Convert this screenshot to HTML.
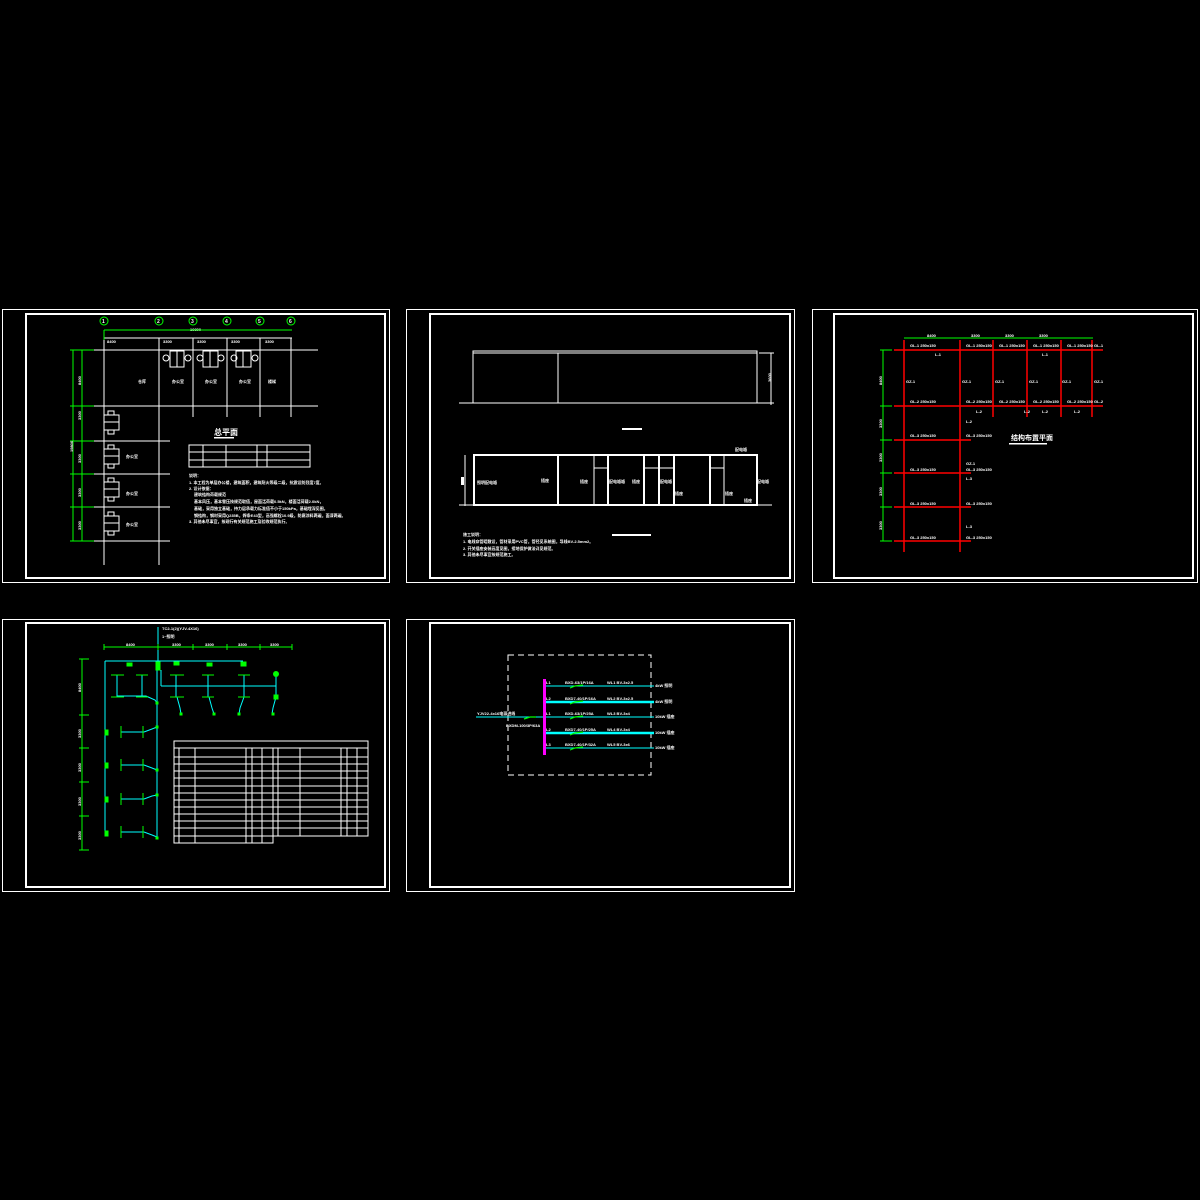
<!DOCTYPE html>
<html><head><meta charset="utf-8"><style>
html,body{margin:0;padding:0;background:#000;}
svg{display:block;}
text{font-family:"Liberation Sans","Noto Sans CJK SC",sans-serif;fill:#fff;font-weight:bold;}
</style></head><body>
<svg width="1200" height="1200" viewBox="0 0 1200 1200" xmlns="http://www.w3.org/2000/svg">
<rect width="1200" height="1200" fill="#000"/>
<g fill="none" stroke="#fff">
<!-- frames -->
<rect x="2.5" y="309.5" width="387" height="273" stroke-width="1"/>
<rect x="26" y="314" width="359" height="264" stroke-width="2"/>
<rect x="406.5" y="309.5" width="388" height="273"/>
<rect x="430" y="314" width="360" height="264" stroke-width="2"/>
<rect x="812.5" y="309.5" width="385" height="273"/>
<rect x="834" y="314" width="359" height="264" stroke-width="2"/>
<rect x="2.5" y="619.5" width="387" height="272"/>
<rect x="26" y="623" width="359" height="264" stroke-width="2"/>
<rect x="406.5" y="619.5" width="388" height="272"/>
<rect x="430" y="623" width="360" height="264" stroke-width="2"/>
</g>

<!-- SHEET 1 -->
<g stroke="#fff" stroke-width="1" fill="none">
<line x1="94" y1="350" x2="318" y2="350"/>
<line x1="94" y1="406" x2="318" y2="406"/>
<line x1="94" y1="441" x2="170" y2="441"/>
<line x1="94" y1="474" x2="170" y2="474"/>
<line x1="94" y1="507" x2="170" y2="507"/>
<line x1="94" y1="541" x2="170" y2="541"/>
<line x1="104" y1="338" x2="104" y2="565"/>
<line x1="159" y1="338" x2="159" y2="565"/>
<line x1="193" y1="338" x2="193" y2="417"/>
<line x1="227" y1="338" x2="227" y2="417"/>
<line x1="260" y1="338" x2="260" y2="417"/>
<line x1="291" y1="338" x2="291" y2="417"/>
<line x1="104" y1="338" x2="292" y2="338"/>
<rect x="189" y="445" width="121" height="22"/>
<line x1="189" y1="452" x2="310" y2="452"/><line x1="189" y1="460" x2="310" y2="460"/>
<line x1="203" y1="445" x2="203" y2="467"/><line x1="226" y1="445" x2="226" y2="467"/>
<line x1="257" y1="445" x2="257" y2="467"/><line x1="267" y1="445" x2="267" y2="467"/>
<!-- equipment top -->
<rect x="170" y="351" width="14" height="16"/><line x1="177" y1="351" x2="177" y2="367"/>
<circle cx="166" cy="358" r="3"/><circle cx="188" cy="358" r="3"/>
<rect x="203" y="351" width="15" height="16"/><line x1="210" y1="351" x2="210" y2="367"/>
<circle cx="200" cy="358" r="3"/><circle cx="221" cy="358" r="3"/>
<rect x="236" y="351" width="15" height="16"/><line x1="243" y1="351" x2="243" y2="367"/>
<circle cx="234" cy="358" r="3"/><circle cx="255" cy="358" r="3"/>
<!-- equipment left -->
<g id="eq"><rect x="104" y="415" width="15" height="15"/><line x1="104" y1="422" x2="119" y2="422"/><rect x="108" y="411" width="6" height="4"/><rect x="108" y="430" width="6" height="4"/></g>
<use href="#eq" y="34"/><use href="#eq" y="67"/><use href="#eq" y="101"/>
</g>
<g fill="#fff" font-size="4">
<text x="107" y="343">8400</text><text x="163" y="343">3300</text><text x="197" y="343">3300</text><text x="231" y="343">3300</text><text x="265" y="343">3300</text>
<text x="190" y="331" font-size="4">19800</text>
<text x="138" y="383">仓库</text><text x="172" y="383">办公室</text><text x="205" y="383">办公室</text><text x="239" y="383">办公室</text><text x="268" y="383">楼梯</text>
<text x="126" y="458">办公室</text><text x="126" y="495">办公室</text><text x="126" y="526">办公室</text>
<text x="214" y="435" font-size="8">总平面</text>
<text x="189" y="477">说明：</text>
<text x="189" y="484">1. 本工程为单层办公楼，建筑面积，建筑耐火等级二级，抗震设防烈度7度。</text>
<text x="189" y="490">2. 设计依据：</text>
<text x="194" y="496">建筑结构荷载规范</text>
<text x="194" y="503">基本风压，基本雪压按规范取值，屋面活荷载0.5kN，楼面活荷载2.0kN，</text>
<text x="194" y="510">基础，采用独立基础，持力层承载力标准值不小于150kPa，基础埋深见图。</text>
<text x="194" y="517">钢结构，钢材采用Q235B，焊条E43型，高强螺栓10.9级，防腐涂料两遍，面漆两遍。</text>
<text x="189" y="523">3. 其他未尽事宜，按现行有关规范施工及验收规范执行。</text>
</g>
<rect x="214" y="437" width="20" height="1.5" fill="#fff"/>
<g stroke="#0f0" stroke-width="1" fill="none">
<line x1="104" y1="330" x2="292" y2="330"/>
<line x1="104" y1="330" x2="104" y2="340"/>
<line x1="73" y1="350" x2="73" y2="541"/><line x1="82" y1="350" x2="82" y2="541"/>
<line x1="70" y1="350" x2="94" y2="350"/><line x1="70" y1="406" x2="94" y2="406"/><line x1="70" y1="441" x2="94" y2="441"/><line x1="70" y1="474" x2="94" y2="474"/><line x1="70" y1="507" x2="94" y2="507"/><line x1="70" y1="541" x2="94" y2="541"/>
<circle cx="104" cy="321" r="4"/><circle cx="159" cy="321" r="4"/><circle cx="193" cy="321" r="4"/><circle cx="227" cy="321" r="4"/><circle cx="260" cy="321" r="4"/><circle cx="291" cy="321" r="4"/>
</g>
<g font-size="5" fill="#fff"><text x="102" y="323">1</text><text x="157" y="323">2</text><text x="191" y="323">3</text><text x="225" y="323">4</text><text x="258" y="323">5</text><text x="289" y="323">6</text></g>
<g font-size="4" fill="#fff">
<text transform="translate(81,385) rotate(-90)">8400</text><text transform="translate(81,420) rotate(-90)">3300</text><text transform="translate(81,463) rotate(-90)">3300</text><text transform="translate(81,497) rotate(-90)">3300</text><text transform="translate(81,530) rotate(-90)">3300</text>
<text transform="translate(73,452) rotate(-90)">19800</text>
</g>

<!-- SHEET 2 -->
<g stroke="#fff" stroke-width="1" fill="none">
<rect x="473" y="351" width="284" height="52"/>
<line x1="473" y1="353" x2="757" y2="353"/>
<line x1="558" y1="353" x2="558" y2="403"/>
<line x1="459" y1="403" x2="774" y2="403"/>
<line x1="759" y1="353" x2="774" y2="353"/>
<line x1="771" y1="353" x2="771" y2="405"/>
<rect x="474" y="455" width="283" height="50" stroke-width="2"/>
<line x1="459" y1="505" x2="772" y2="505"/>
<line x1="465" y1="455" x2="465" y2="506"/>
<g stroke-width="2"><line x1="558" y1="455" x2="558" y2="505"/><line x1="608" y1="455" x2="608" y2="505"/><line x1="644" y1="455" x2="644" y2="505"/><line x1="659" y1="455" x2="659" y2="505"/><line x1="674" y1="455" x2="674" y2="505"/><line x1="710" y1="455" x2="710" y2="505"/></g>
<line x1="594" y1="455" x2="594" y2="505"/><line x1="724" y1="455" x2="724" y2="505"/><line x1="659" y1="455" x2="659" y2="505"/>
<line x1="594" y1="468" x2="608" y2="468"/><line x1="644" y1="468" x2="674" y2="468"/><line x1="710" y1="468" x2="724" y2="468"/>
</g>
<rect x="622" y="428" width="20" height="2" fill="#fff"/>
<rect x="612" y="534" width="39" height="2" fill="#fff"/>
<g fill="#fff" font-size="4">
<text x="477" y="484">照明配电箱</text><text x="541" y="482">插座</text><text x="580" y="483">插座</text><text x="609" y="483">配电箱箱</text><text x="632" y="483">插座</text><text x="660" y="483">配电箱</text><text x="675" y="495">插座</text><text x="725" y="495">插座</text><text x="744" y="502">插座</text><text x="757" y="483">配电箱</text><text x="735" y="451">配电箱</text>
<text transform="translate(771,382) rotate(-90)">3600</text>
<text x="463" y="536">施工说明：</text>
<text x="463" y="543">1. 电线穿管暗敷设，管材采用PVC管，管径见系统图，导线BV-2.5mm2。</text>
<text x="463" y="550">2. 开关插座安装高度见图，接地保护做法详见规范。</text>
<text x="463" y="556">3. 其他未尽事宜按规范施工。</text>
</g>
<rect x="461" y="477" width="3" height="8" fill="#fff"/>

<!-- SHEET 3 -->
<g stroke="#f00" stroke-width="1.5" fill="none">
<line x1="894" y1="350" x2="1103" y2="350"/><line x1="894" y1="406" x2="1103" y2="406"/>
<line x1="894" y1="440" x2="971" y2="440"/><line x1="894" y1="473" x2="971" y2="473"/><line x1="894" y1="507" x2="971" y2="507"/><line x1="894" y1="541" x2="971" y2="541"/>
<line x1="904" y1="340" x2="904" y2="552"/><line x1="960" y1="340" x2="960" y2="552"/>
<line x1="993" y1="340" x2="993" y2="417"/><line x1="1027" y1="340" x2="1027" y2="417"/><line x1="1061" y1="340" x2="1061" y2="417"/><line x1="1092" y1="340" x2="1092" y2="417"/>
</g>
<g stroke="#0f0" stroke-width="1" fill="none">
<line x1="904" y1="338" x2="1093" y2="338"/>
<line x1="883" y1="350" x2="883" y2="541"/>
<line x1="880" y1="350" x2="892" y2="350"/><line x1="880" y1="406" x2="892" y2="406"/><line x1="880" y1="440" x2="892" y2="440"/><line x1="880" y1="473" x2="892" y2="473"/><line x1="880" y1="507" x2="892" y2="507"/><line x1="880" y1="541" x2="892" y2="541"/>
</g>
<g fill="#fff" font-size="4">
<text x="927" y="337">8400</text><text x="971" y="337">3300</text><text x="1005" y="337">3300</text><text x="1039" y="337">3300</text>
<text transform="translate(882,385) rotate(-90)">8400</text><text transform="translate(882,428) rotate(-90)">3300</text><text transform="translate(882,462) rotate(-90)">3300</text><text transform="translate(882,496) rotate(-90)">3300</text><text transform="translate(882,530) rotate(-90)">3300</text>
<text x="910" y="347">GL-1 250x150</text><text x="966" y="347">GL-1 250x150</text><text x="999" y="347">GL-1 250x150</text><text x="1033" y="347">GL-1 250x150</text><text x="1067" y="347">GL-1 250x150</text><text x="1094" y="347">GL-1</text>
<text x="935" y="356">L-1</text><text x="1042" y="356">L-1</text>
<text x="906" y="383">GZ-1</text><text x="962" y="383">GZ-1</text><text x="995" y="383">GZ-1</text><text x="1029" y="383">GZ-1</text><text x="1062" y="383">GZ-1</text><text x="1094" y="383">GZ-1</text>
<text x="910" y="403">GL-2 250x150</text><text x="966" y="403">GL-2 250x150</text><text x="999" y="403">GL-2 250x150</text><text x="1033" y="403">GL-2 250x150</text><text x="1067" y="403">GL-2 250x150</text><text x="1094" y="403">GL-2</text>
<text x="976" y="413">L-2</text><text x="1024" y="413">L-2</text><text x="1042" y="413">L-2</text><text x="1074" y="413">L-2</text><text x="966" y="423">L-2</text>
<text x="910" y="437">GL-3 250x150</text><text x="966" y="437">GL-3 250x150</text>
<text x="966" y="465">GZ-1</text>
<text x="910" y="471">GL-3 250x150</text><text x="966" y="471">GL-3 250x150</text><text x="966" y="480">L-3</text>
<text x="910" y="505">GL-3 250x150</text><text x="966" y="505">GL-3 250x150</text>
<text x="966" y="528">L-3</text>
<text x="910" y="539">GL-3 250x150</text><text x="966" y="539">GL-3 250x150</text>
<text x="1011" y="440" font-size="7">结构布置平面</text>
</g>
<rect x="1009" y="443" width="38" height="1.5" fill="#fff"/>

<!-- SHEET 4 -->
<g stroke="#0ff" stroke-width="1" fill="none">
<line x1="158" y1="627" x2="158" y2="670"/>
<line x1="105" y1="661" x2="243" y2="661"/>
<line x1="105" y1="661" x2="105" y2="835"/>
<line x1="157" y1="661" x2="157" y2="838"/>
<line x1="161" y1="670" x2="161" y2="686"/><line x1="161" y1="686" x2="276" y2="686"/><line x1="276" y1="674" x2="276" y2="697"/>
<line x1="117" y1="675" x2="117" y2="697"/><line x1="142" y1="675" x2="142" y2="697"/>
<line x1="176" y1="675" x2="176" y2="697"/><line x1="208" y1="675" x2="208" y2="697"/><line x1="244" y1="675" x2="244" y2="697"/>
<line x1="117" y1="696" x2="146" y2="696"/><polyline points="146,696 155,700 157,703"/>
<polyline points="177,697 180,708 181,714"/><polyline points="209,697 212,708 214,714"/><polyline points="244,697 240,708 239,714"/><polyline points="276,697 273,708 272,714"/>
<line x1="121" y1="732" x2="144" y2="732"/><polyline points="144,732 152,729 157,727"/>
<line x1="121" y1="765" x2="144" y2="765"/><polyline points="144,765 152,768 157,770"/>
<line x1="121" y1="799" x2="144" y2="799"/><polyline points="144,799 152,796 157,795"/>
<line x1="121" y1="832" x2="144" y2="832"/><polyline points="144,832 152,835 157,837"/>
</g>
<g fill="#0f0" stroke="#0f0" stroke-width="1">
<line x1="104" y1="647" x2="292" y2="647" fill="none"/>
<line x1="82" y1="659" x2="82" y2="850" fill="none"/>
<g fill="none"><line x1="79" y1="659" x2="89" y2="659"/><line x1="79" y1="715" x2="89" y2="715"/><line x1="79" y1="748" x2="89" y2="748"/><line x1="79" y1="782" x2="89" y2="782"/><line x1="79" y1="816" x2="89" y2="816"/><line x1="79" y1="850" x2="89" y2="850"/>
<line x1="104" y1="644" x2="104" y2="650"/><line x1="158" y1="644" x2="158" y2="650"/><line x1="193" y1="644" x2="193" y2="650"/><line x1="227" y1="644" x2="227" y2="650"/><line x1="260" y1="644" x2="260" y2="650"/><line x1="292" y1="644" x2="292" y2="650"/>
<line x1="111" y1="675" x2="124" y2="675"/><line x1="136" y1="675" x2="148" y2="675"/><line x1="170" y1="675" x2="184" y2="675"/><line x1="202" y1="675" x2="214" y2="675"/><line x1="238" y1="675" x2="250" y2="675"/>
<line x1="111" y1="697" x2="124" y2="697"/><line x1="136" y1="697" x2="148" y2="697"/><line x1="170" y1="697" x2="184" y2="697"/><line x1="202" y1="697" x2="214" y2="697"/><line x1="238" y1="697" x2="250" y2="697"/>
<line x1="121" y1="726" x2="121" y2="738"/><line x1="143" y1="726" x2="143" y2="738"/>
<line x1="121" y1="759" x2="121" y2="771"/><line x1="143" y1="759" x2="143" y2="771"/>
<line x1="121" y1="793" x2="121" y2="805"/><line x1="143" y1="793" x2="143" y2="805"/>
<line x1="121" y1="826" x2="121" y2="838"/><line x1="143" y1="826" x2="143" y2="838"/>
</g>
<rect x="127" y="663" width="5" height="3"/><rect x="156" y="662" width="4" height="8"/><rect x="174" y="662" width="5" height="3"/><rect x="207" y="663" width="5" height="3"/><rect x="241" y="662" width="5" height="4"/>
<circle cx="276" cy="674" r="2.5"/><rect x="274" y="695" width="4" height="4"/>
<rect x="180" y="713" width="2" height="2"/><rect x="213" y="713" width="2" height="2"/><rect x="238" y="713" width="2" height="2"/><rect x="272" y="713" width="2" height="2"/>
<rect x="105" y="730" width="3" height="5"/><rect x="105" y="763" width="3" height="5"/><rect x="105" y="797" width="3" height="5"/><rect x="105" y="831" width="3" height="5"/>
<rect x="156" y="702" width="2" height="2"/><rect x="156" y="726" width="2" height="2"/><rect x="156" y="769" width="2" height="2"/><rect x="156" y="794" width="2" height="2"/><rect x="156" y="837" width="2" height="2"/>
</g>
<g fill="#fff" font-size="4">
<text x="162" y="630">TC2-1(2)(YJV-4X16)</text><text x="162" y="638">1~照明</text>
<text x="126" y="646">8400</text><text x="172" y="646">3300</text><text x="205" y="646">3300</text><text x="238" y="646">3300</text><text x="270" y="646">3300</text>
<text transform="translate(81,692) rotate(-90)">8400</text><text transform="translate(81,738) rotate(-90)">3300</text><text transform="translate(81,772) rotate(-90)">3300</text><text transform="translate(81,806) rotate(-90)">3300</text><text transform="translate(81,840) rotate(-90)">3300</text>
</g>
<g stroke="#fff" stroke-width="1" fill="none">
<rect x="174" y="741" width="194" height="95"/>
<polyline points="174,836 174,843 273,843 273,836"/>
<line x1="174" y1="748" x2="368" y2="748"/>
<line x1="174" y1="757" x2="368" y2="757"/><line x1="174" y1="764" x2="368" y2="764"/><line x1="174" y1="771" x2="368" y2="771"/><line x1="174" y1="778" x2="368" y2="778"/><line x1="174" y1="786" x2="368" y2="786"/><line x1="174" y1="793" x2="368" y2="793"/><line x1="174" y1="800" x2="368" y2="800"/><line x1="174" y1="807" x2="368" y2="807"/><line x1="174" y1="814" x2="368" y2="814"/><line x1="174" y1="821" x2="368" y2="821"/><line x1="174" y1="828" x2="368" y2="828"/>
<line x1="179" y1="748" x2="179" y2="843"/><line x1="195" y1="748" x2="195" y2="843"/><line x1="246" y1="748" x2="246" y2="843"/><line x1="252" y1="748" x2="252" y2="843"/><line x1="262" y1="748" x2="262" y2="843"/>
<line x1="273" y1="748" x2="273" y2="836"/><line x1="278" y1="748" x2="278" y2="836"/><line x1="300" y1="748" x2="300" y2="836"/><line x1="341" y1="748" x2="341" y2="836"/><line x1="347" y1="748" x2="347" y2="836"/><line x1="357" y1="748" x2="357" y2="836"/>
</g>

<!-- SHEET 5 -->
<rect x="508" y="655" width="143" height="120" fill="none" stroke="#fff" stroke-width="1" stroke-dasharray="6,4"/>
<g stroke="#0ff" fill="none">
<line x1="544" y1="686" x2="654" y2="686" stroke-width="1"/>
<line x1="544" y1="702" x2="654" y2="702" stroke-width="2.5"/>
<line x1="476" y1="717" x2="654" y2="717" stroke-width="1"/>
<line x1="544" y1="733" x2="654" y2="733" stroke-width="2.5"/>
<line x1="544" y1="748" x2="654" y2="748" stroke-width="1"/>
</g>
<rect x="543" y="679" width="3" height="76" fill="#f0f"/>
<g stroke="#0f0" stroke-width="1.2" fill="none">
<polyline points="570,688 575,686 583,685"/><polyline points="570,704 575,702 583,701"/><polyline points="570,719 575,717 583,716"/><polyline points="570,735 575,733 583,732"/><polyline points="570,750 575,748 583,747"/>
<polyline points="524,719 530,717 536,717"/>
</g>
<g fill="#fff" font-size="4">
<text x="546" y="684">L1</text><text x="565" y="684">BXD-63/1P/16A</text><text x="607" y="684">WL1 BV-3x2.5</text><text x="655" y="687">4kW 照明</text>
<text x="546" y="700">L2</text><text x="565" y="700">BXD7-40/1P/16A</text><text x="607" y="700">WL2 BV-3x2.5</text><text x="655" y="703">4kW 照明</text>
<text x="546" y="715">L1</text><text x="565" y="715">BXD-63/1P/25A</text><text x="607" y="715">WL3 BV-3x4</text><text x="655" y="718">10kW 插座</text>
<text x="546" y="731">L2</text><text x="565" y="731">BXD7-40/1P/25A</text><text x="607" y="731">WL4 BV-3x4</text><text x="655" y="734">10kW 插座</text>
<text x="546" y="746">L3</text><text x="565" y="746">BXD7-40/1P/32A</text><text x="607" y="746">WL5 BV-3x6</text><text x="655" y="749">10kW 插座</text>
<text x="477" y="715">YJV22-4x16电源进线</text>
<text x="506" y="727">BXDM-100/3P/63A</text>
</g>
</svg>
</body></html>
